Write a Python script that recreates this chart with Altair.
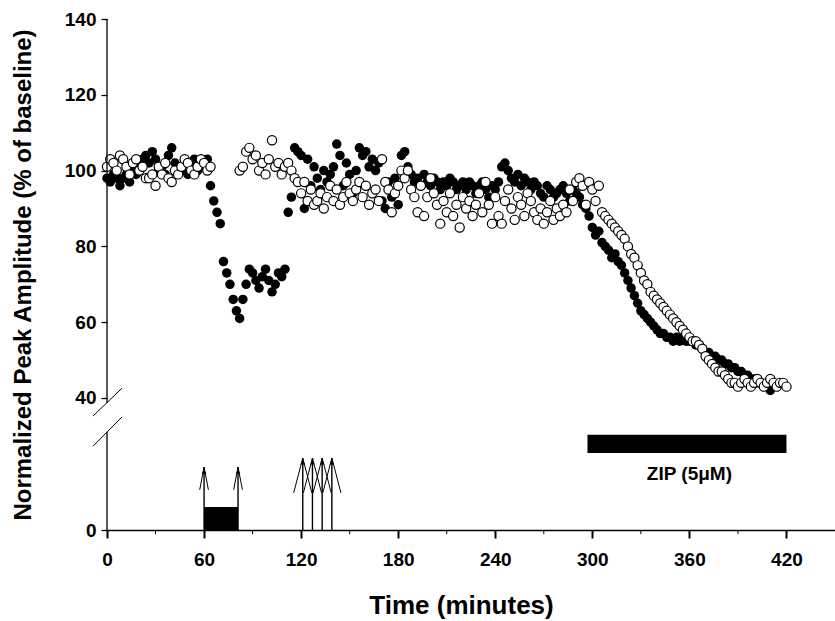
import altair as alt
import pandas as pd

FONT = "Liberation Sans"

# ---------------- data ----------------
# filled circles: sampled every 2 min from 0 to 412 min
f_time = list(range(0, 414, 2))
f_vals = [
    # 0-62
    98, 97, 99, 98, 96, 98, 99, 97,
    100, 99, 101,
    103, 104, 102, 105, 103,
    100, 101, 99,
    104, 106, 102,
    101, 100, 102, 99, 101,
    103, 100, 102, 101, 103,
    # 64-110
    96, 92, 89, 86, 76, 73, 70, 66, 63, 61,
    66, 70, 74, 73, 71, 69, 72, 74, 71, 68, 70, 73, 72, 74,
    # 112-140
    89, 93, 106, 105, 104, 90, 103, 96, 101, 98, 95, 100, 97, 99, 101,
    # 142-170
    107, 104, 96, 102, 99, 94, 100, 106, 104, 105, 101, 103, 100, 102, 92,
    # 172-200
    90, 97, 93, 98, 91, 104, 105, 101, 99, 97, 98, 96, 99, 97, 96,
    # 202-240
    98, 97, 95, 97, 96, 98, 97, 95, 96, 97, 95, 97, 96, 94, 96, 97, 95, 93, 96, 95,
    # 242-290
    97, 101, 102, 100, 98, 97, 99, 96, 98, 97, 95, 97, 96, 94, 93, 96, 95, 93, 94, 95,
    96, 94, 92, 95, 94,
    # 292-334
    93, 91, 90, 88, 85, 83, 84, 81, 80, 79, 77, 78, 76, 75, 73, 71, 69, 67, 65, 63, 62, 61,
    # 336-412
    60, 59, 58, 57, 57, 56, 56, 55, 56, 55, 56, 55, 55, 55, 54, 54, 53, 52, 52, 51,
    51, 50, 50, 49, 49, 48, 48, 47, 47, 46, 46, 45, 45, 44, 44, 43, 43, 42, 43,
]

# open circles: every 2 min, 0-64 and 82-420 min
o_time = list(range(0, 66, 2)) + list(range(82, 422, 2))
o_vals = [
    # 0-64
    101, 103, 102, 100, 104, 103, 101, 99, 102, 103, 100, 101, 98, 98, 99, 96,
    101, 99, 102, 98, 97, 100, 99, 101, 103, 102, 100, 99, 101, 103, 102, 100, 101,
    # 82-118
    100, 101, 105, 106, 103, 104, 100, 102, 99, 103, 108, 101, 102, 99, 101, 102, 100, 98, 97,
    # 120-310
    94, 97, 92, 95, 91, 92, 94, 90, 93, 96,
    92, 95, 91, 93, 97, 94, 92, 95, 97, 93,
    96, 91, 94, 95, 92, 103, 97, 95, 89, 94,
    96, 100, 98, 100, 95, 93, 89, 96, 88, 93,
    98, 94, 91, 86, 92, 89, 94, 88, 91, 85,
    93, 90, 92, 88, 91, 94, 89, 97, 91, 86,
    93, 88, 86, 92, 95, 90, 87, 93, 91, 88,
    94, 92, 89, 87, 90, 86, 89, 92, 87, 90,
    88, 91, 89, 95, 92, 97, 98, 96, 91, 97,
    95, 92, 96, 89, 88, 87,
    # 312-420
    86, 85, 84, 83, 82, 80, 78, 77, 75, 73,
    71, 70, 68, 67, 66, 65, 64, 63, 62, 61,
    60, 59, 58, 57, 56, 55, 55, 54, 53, 51,
    50, 49, 48, 47, 47, 46, 45, 44, 44, 43,
    44, 45, 44, 43, 44, 45, 44, 43, 44, 45,
    44, 43, 44, 44, 43,
]

x_ticks = [0, 60, 120, 180, 240, 300, 360, 420]
x_minor = [30, 90, 150, 210, 270, 330, 390]
y_ticks = [40, 60, 80, 100, 120, 140]

LOW0 = 5.17          # where the lower (protocol) panel's zero sits on the y scale

# lower panel annotations, in lower-panel units above its zero
box_x, box_x2, box_top = [60], [81], [6.1]
arrow_x = [60, 81, 121, 127, 133, 139]
arrow_tip = [16.6, 16.6, 19.0, 19.0, 19.0, 19.0]
arrow_base = [10.6, 10.6, 9.8, 9.8, 9.8, 9.8]
arrow_hw = [2.7, 2.7, 5.6, 5.6, 5.6, 5.6]
zip_x, zip_x2, zip_lo, zip_hi = [297], [420], [20.3], [25.1]
zip_label, zip_lx, zip_ly = ["ZIP (5\u03bcM)"], [360], [14.8]

# broken y axis: segments and break marks (y-scale units)
yseg_lo = [38.7, LOW0]
yseg_hi = [140, LOW0 + 25.9]
brk_x, brk_x2 = [-8.6, -8.6], [9.3, 9.3]
brk_y, brk_y2 = [35.25, 27.3], [42.6, 35.0]

# ---------------- tables ----------------
df_f = pd.DataFrame({"t": f_time, "v": f_vals})
df_o = pd.DataFrame({"t": o_time, "v": o_vals})

xs = alt.Scale(domain=[0, 450], nice=False, zero=False)
ys = alt.Scale(domain=[LOW0, 140], nice=False, zero=False)

x_axis = alt.Axis(
    values=x_ticks, tickSize=8, tickWidth=2, tickColor="black",
    domainColor="black", domainWidth=1.3, grid=False,
    labelFont=FONT, labelFontSize=19, labelFontWeight="bold", labelColor="black",
    labelPadding=12, labelFlush=False,
    title="Time (minutes)", titleFont=FONT, titleFontSize=26, titleFontWeight="bold",
    titleColor="black", titlePadding=23, titleX=354,
)
y_axis = alt.Axis(
    values=[LOW0] + y_ticks, domain=False, tickSize=6, tickWidth=1.3, tickColor="black",
    grid=False, labelExpr="datum.value < 30 ? '0' : format(datum.value, 'd')",
    labelFont=FONT, labelFontSize=19, labelFontWeight="bold", labelColor="black",
    labelPadding=5,
    title="Normalized Peak Amplitude (% of baseline)", titleFont=FONT, titleFontSize=24,
    titleFontWeight="bold", titleColor="black", titlePadding=29,
)


def X(field):
    return alt.X(field, scale=xs, axis=x_axis)


def Y(field):
    return alt.Y(field, scale=ys, axis=y_axis)


filled = alt.Chart(df_f).mark_point(
    shape="circle", filled=True, color="black", size=90, opacity=1
).encode(x=X("t:Q"), y=Y("v:Q"))

opened = alt.Chart(df_o).mark_point(
    shape="circle", filled=True, fill="white", stroke="black", strokeWidth=1.2, size=85, opacity=1
).encode(x=X("t:Q"), y=Y("v:Q"))

yseg = alt.Chart(pd.DataFrame({"x": [0, 0], "y": yseg_lo, "y2": yseg_hi})).mark_rule(
    color="black", strokeWidth=1.3
).encode(x=X("x:Q"), y=Y("y:Q"), y2="y2:Q")

brk = alt.Chart(pd.DataFrame({"x": brk_x, "x2": brk_x2, "y": brk_y, "y2": brk_y2})).mark_rule(
    color="black", strokeWidth=1
).encode(x=X("x:Q"), x2="x2:Q", y=Y("y:Q"), y2="y2:Q")

minor = alt.Chart(pd.DataFrame({"x": x_minor})).transform_calculate(
    y=str(LOW0), y2=str(LOW0 - 1.1)
).mark_rule(color="black", strokeWidth=1).encode(x=X("x:Q"), y=Y("y:Q"), y2="y2:Q")

box = alt.Chart(pd.DataFrame({"x": box_x, "x2": box_x2, "top": box_top})).transform_calculate(
    y=str(LOW0), y2=f"{LOW0} + datum.top"
).mark_rect(color="black").encode(x=X("x:Q"), x2="x2:Q", y=Y("y:Q"), y2="y2:Q")

adf = pd.DataFrame({"x": arrow_x, "tip": arrow_tip, "base": arrow_base, "hw": arrow_hw})
shafts = alt.Chart(adf).transform_calculate(
    y=str(LOW0), y2=f"{LOW0} + datum.tip"
).mark_rule(color="black", strokeWidth=1.4).encode(x=X("x:Q"), y=Y("y:Q"), y2="y2:Q")

head_l = alt.Chart(adf).transform_calculate(
    y=f"{LOW0} + datum.tip", y2=f"{LOW0} + datum.base", x2="datum.x - datum.hw"
).mark_rule(color="black", strokeWidth=1).encode(x=X("x:Q"), x2="x2:Q", y=Y("y:Q"), y2="y2:Q")

head_r = alt.Chart(adf).transform_calculate(
    y=f"{LOW0} + datum.tip", y2=f"{LOW0} + datum.base", x2="datum.x + datum.hw"
).mark_rule(color="black", strokeWidth=1).encode(x=X("x:Q"), x2="x2:Q", y=Y("y:Q"), y2="y2:Q")

tips = alt.Chart(adf).transform_calculate(
    y=f"{LOW0} + datum.tip - 1.2"
).mark_point(shape="triangle-up", filled=True, color="black", size=22, opacity=1).encode(
    x=X("x:Q"), y=Y("y:Q"))

zipbar = alt.Chart(pd.DataFrame({"x": zip_x, "x2": zip_x2, "lo": zip_lo, "hi": zip_hi})).transform_calculate(
    y=f"{LOW0} + datum.lo", y2=f"{LOW0} + datum.hi"
).mark_rect(color="black").encode(x=X("x:Q"), x2="x2:Q", y=Y("y:Q"), y2="y2:Q")

ziptext = alt.Chart(pd.DataFrame({"x": zip_lx, "ly": zip_ly, "label": zip_label})).transform_calculate(
    y=f"{LOW0} + datum.ly"
).mark_text(font=FONT, fontSize=19, fontWeight="bold", color="black",
            align="center", baseline="middle").encode(x=X("x:Q"), y=Y("y:Q"), text="label:N")

chart = alt.layer(
    filled, opened, yseg, brk, minor, box, shafts, head_l, head_r, tips, zipbar, ziptext
).properties(
    width=728, height=511,
    padding={"left": 107, "top": 19, "right": 0, "bottom": 91},
    autosize=alt.AutoSizeParams(type="none"),
).configure_view(strokeWidth=0)

chart.save("out.html", embed_options={"renderer": "svg", "actions": False})
